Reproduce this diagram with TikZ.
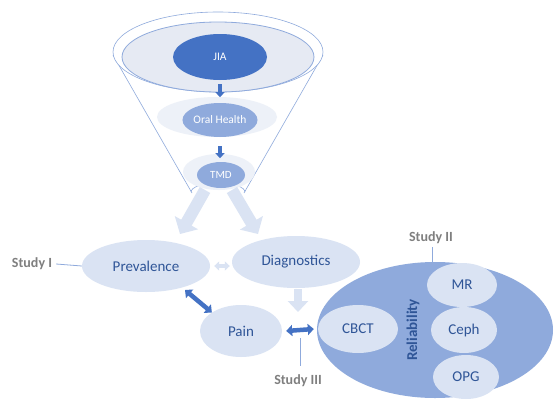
\documentclass[tikz,border=0pt]{standalone}
\usepackage{fontspec}
\setmainfont{Carlito}
\usetikzlibrary{shapes.geometric,arrows.meta}
\definecolor{dkblue}{HTML}{4472C4}
\definecolor{midblue}{HTML}{8FAADC}
\definecolor{paleblue}{HTML}{DAE3F3}
\definecolor{palest}{HTML}{EDF1F8}
\definecolor{funnelin}{HTML}{E6EAF3}
\definecolor{txtblue}{HTML}{2F5597}
\definecolor{studygray}{HTML}{7F7F7F}
\tikzset{
  oval/.style={ellipse, inner sep=0pt, fill=paleblue, text=txtblue, font=\fontsize{15}{17}\selectfont},
  funnelbox/.style={ellipse, inner sep=0pt, text=white},
  studylbl/.style={text=studygray, font=\bfseries\fontsize{14}{16}\selectfont, inner sep=0pt},
  studyline/.style={draw=midblue, line width=0.8pt},
  bigpale/.style={draw=paleblue, line width=12pt, -{Triangle[width=26pt,length=13pt]}},
  darkdbl/.style={draw=dkblue, line width=4.5pt, {Triangle[width=11pt,length=6pt]}-{Triangle[width=11pt,length=6pt]}},
  paledbl/.style={draw=paleblue, line width=4pt, {Triangle[width=9pt,length=5pt]}-{Triangle[width=9pt,length=5pt]}},
  smalldark/.style={draw=dkblue, line width=3.5pt, -{Triangle[width=9pt,length=5pt]}}
}
\begin{document}
\begin{tikzpicture}[x=1pt,y=-1pt]
\useasboundingbox[fill=white] (0,0) rectangle (554,399);
% big pale arrows behind funnel
\coordinate (fb1) at (205,190);
\coordinate (fb2) at (232,190);
% funnel
\fill[white] (113,52) -- (192,193) -- (244,193) -- (323,52) -- cycle;
\draw[midblue, line width=0.6pt] (113,55) -- (192,193);
\draw[midblue, line width=0.6pt] (323,55) -- (244,193);
\draw[midblue, line width=0.6pt, fill=white] (218,52) ellipse[x radius=105, y radius=40];
\draw[midblue, line width=0.8pt, fill=funnelin] (218,57) ellipse[x radius=96, y radius=35];
% bottom of funnel
\draw[midblue, line width=0.6pt] (191,192) arc[start angle=180, end angle=360, x radius=27, y radius=9];
% pale halos
\fill[palest] (217,117) ellipse[x radius=60, y radius=20];
\fill[palest] (219,172) ellipse[x radius=36, y radius=18];
\node[funnelbox, fill=dkblue, minimum width=94pt, minimum height=46pt, font=\fontsize{11.5}{13}\selectfont] (jia) at (220,57) {JIA};
\node[funnelbox, fill=midblue, minimum width=74pt, minimum height=34pt, font=\fontsize{11.5}{13}\selectfont] (oral) at (220,120) {Oral Health};
\node[funnelbox, fill=midblue, minimum width=48pt, minimum height=26pt, font=\fontsize{11}{13}\selectfont] (tmd) at (221,175) {TMD};
\draw[smalldark] (jia.south) ++(0,4) -- ++(0,13);
\draw[smalldark] (oral.south) ++(0,9) -- ++(0,12);
% main ellipses
\node[oval, minimum width=128pt, minimum height=52pt] (prev) at (146,266) {Prevalence};
\node[oval, minimum width=128pt, minimum height=52pt] (diag) at (296,262) {Diagnostics};
\node[oval, minimum width=82pt, minimum height=52pt] (pain) at (241,331) {Pain};
\draw[bigpale] (fb1) -- (180,234);
\draw[bigpale] (fb2) -- (258,234);
% reliability group
\node[ellipse, fill=midblue, minimum width=236pt, minimum height=136pt, inner sep=0pt] (rel) at (435,330) {};
\node[oval, minimum width=80pt, minimum height=48pt] (cbct) at (358,329) {CBCT};
\node[oval, minimum width=70pt, minimum height=44pt] (mr) at (462,285) {MR};
\node[oval, minimum width=66pt, minimum height=46pt] (ceph) at (464,330) {Ceph};
\node[oval, minimum width=66pt, minimum height=44pt] (opg) at (466,377) {OPG};
\node[rotate=90, text=txtblue, font=\bfseries\fontsize{15}{17}\selectfont, inner sep=0pt] (reltxt) at (413,330) {Reliability};
% connectors
\draw[paledbl] ([xshift=4pt]prev.east) -- ([xshift=-2pt]diag.west |- prev.east);
\draw[darkdbl] (185,290) -- (pain.north west);
\coordinate (dgs) at (298,289);
\draw[bigpale, line width=8pt, -{Triangle[width=20pt,length=11pt]}] (dgs) -- (298,312);
\draw[darkdbl] ([xshift=4pt]pain.east) -- ([xshift=-4pt]cbct.west);
% study labels
\node[studylbl] (s1) at (32,264) {Study I};
\draw[studyline] (s1.east) ++(4,0) -- (prev.west);
\node[studylbl] (s2) at (431,238) {Study II};
\draw[studyline] (432,247) -- (rel.north -| 432,0);
\node[studylbl] (s3) at (298,381) {Study III};
\coordinate (s3top) at (300,338);
\draw[studyline] (s3top) -- (300,366);
\end{tikzpicture}
\end{document}
